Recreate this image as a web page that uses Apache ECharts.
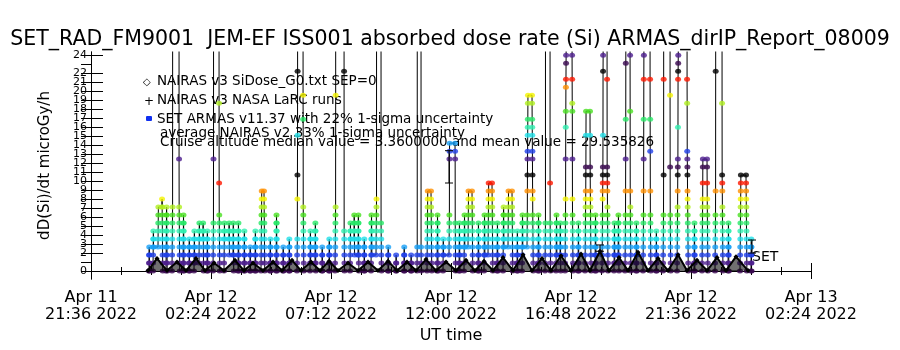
<!DOCTYPE html>
<html>
<head>
<meta charset="utf-8">
<script src="https://cdn.jsdelivr.net/npm/echarts@6/dist/echarts.min.js"></script>
<style>html,body{margin:0;padding:0;background:#fff}#main{width:900px;height:350px}</style>
</head>
<body>
<div id="main"></div>
<script>
// hours since Apr 11 2022 21:36 UT
var xTickLabels = ['Apr 11\n21:36 2022', 'Apr 12\n02:24 2022', 'Apr 12\n07:12 2022', 'Apr 12\n12:00 2022',
    'Apr 12\n16:48 2022', 'Apr 12\n21:36 2022', 'Apr 13\n02:24 2022'];
var yTickValues = [0,1,2,3,4,5,6,7,8,9,10,11,12,13,14,15,16,17,18,19,20,21,22,23,24];

// SET ARMAS: one entry per pass, levels in dosimeter counts (1 count = doseStep microGy/h)
var doseStep = 0.89;
var sampleStep = 0.003; // h between samples
var armasStart = [2.32, 2.48, 2.68, 2.84, 3.0, 3.24, 3.52, 3.68, 3.92, 4.12, 4.32, 4.48, 4.64, 4.88, 5.12,
    5.32, 5.52, 5.68, 5.88, 6.12, 6.36, 6.56, 6.8, 6.92, 7.16, 7.4, 7.68, 7.92, 8.24, 8.48,
    8.76, 8.96, 9.24, 9.52, 9.76, 10.12, 10.36, 10.52, 10.68, 10.92, 11.2, 11.4, 11.6, 11.88, 12.2,
    12.52, 12.8, 13.04, 13.2, 13.44, 13.6, 13.84, 14.08, 14.32, 14.56, 14.72, 14.92, 15.08, 15.24, 15.48,
    15.72, 15.88, 16.04, 16.24, 16.48, 16.68, 16.84, 17.04, 17.24, 17.44, 17.64, 17.88, 18.16, 18.36, 18.6,
    18.76, 18.96, 19.24, 19.48, 19.76, 19.96, 20.16, 20.44, 20.64, 20.92, 21.08, 21.36, 21.56, 21.8, 22.08,
    22.36, 22.6, 22.88, 23.16, 23.44, 23.84, 24.12, 24.44, 24.64, 24.96, 25.24, 25.48, 25.96, 26.2, 26.4];
var armasLevels = [
    [0,1,2,3,2,1,0], [0,1,2,3,4,5,4,3], [3,4,5,6,7,8], [8,9,8,7,6,5,4,3,2,1,0],
    [0,1,2,3,4,5,6,7,8,7,6,5,4,3,2,1,0], [0,1,2,3,4,5,6,7,8,60], [60,14,8,7,6,5,4,3,2,1,0],
    [0,1,2,3,4,5,6,7,6,5,4,3,2,1,0], [0,1,2,3,4,3,2,1,0], [0,1,2,3,4,5,4,3,2,1], [1,2,3,4,5,6,5,4],
    [4,5,6,5,4,3,2,1,0], [0,1,2,3,4,5,4,3,2,1,0], [0,1,2,3,4,5,6,14,60], [60,21,11,7,6,5,4,3,2,1,0],
    [0,1,2,3,4,5,6,5,4], [4,5,6,5,4,3,2], [2,3,4,5,6,5,4,3,2,1,0], [0,1,2,3,4,5,6,5,4,3,2,1,0],
    [0,1,2,3,4,5,4,3,2,1,0], [0,1,2,3,2,1,0], [0,1,2,3,4,5,4,3,2,1,0], [0,1,2,3,4,5,6,7,8,9,10],
    [10,9,8,7,6,5,4,3,2,1,0], [0,1,2,3,4,3,2,1,0], [0,1,2,3,4,5,6,7,6,5,4,3,2,1,0], [0,1,2,3,2,1,0],
    [0,1,2,3,4,3,2,1,0], [0,1,2,3,4,9,12,17,25,60], [60,22,19,8,7,6,5,4,3,2,1,0],
    [0,1,2,3,4,5,4,3,2,1], [1,2,3,4,5,6,5,4,3,2,1,0], [0,1,2,3,2,1,0], [0,1,2,3,4,3,2,1,0],
    [0,1,2,3,4,5,6,7,8,22,60], [60,25,5,4,3,2,1,0], [0,1,2,3,4,5,6,5,4], [4,5,6,7,6,5,4,3,2],
    [2,3,4,5,6,7,6,5,4,3,2,1,0], [0,1,2,3,4,3,2,1,0], [0,1,2,3,4,5,6,7,6,5,4,3,2],
    [2,3,4,5,6,7,8,9,60], [60,6,5,4,3,2,1,0], [0,1,2,3,2,1,0], [0,1,2,1,0],
    [0,1,2,3,2,1,0], [0,1,2,1,0], [0,1,2,3,60], [60,3,2,1,0], [0,1,2,3,4,5,6,7,8,9,10],
    [10,9,8,7,6,5,4,3,2,1,0], [0,1,2,3,4,5,6,7,6,5,4,3,2,1,0], [0,1,2,3,4,3,2],
    [2,3,4,5,6,7,14,15,16], [16,15,14,6,5,4,3,2,1,0], [0,1,2,3,4,5,6,5,4,3,2,1,0],
    [0,1,2,3,4,5,6,7,6,5,4,3], [3,4,5,6,7,8,9,10], [10,9,8,7,6,5,4,3,2,1,0], [0,1,2,3,4,5,6,5,4,3,2,1,0],
    [0,1,2,3,4,5,6,7,6,5,4,3,2], [2,3,4,5,6,7,8,9,10,11], [11,10,9,8,7,6,5,4,3,2,1,0],
    [0,1,2,3,4,5,6,5,4,3,2,1,0], [0,1,2,3,4,5,6,7,8,7,6,5,4,3], [3,4,5,6,7,8,9,10],
    [10,9,8,7,6,5,4,3,2,1,0], [0,1,2,3,4,5,4,3,2,1,0], [0,1,2,3,4,5,6,7,6,5,4,3],
    [3,4,5,6,7,10,12,14,15,17,18,19,21,22], [22,21,19,18,17,15,14,12,10,9,7,6,5,4,3,2,1,0],
    [0,1,2,3,4,5,6,7,6,5,4,3,2,1,0], [0,1,2,3,4,5,6,60], [60,11,6,5,4,3,2,1,0],
    [0,1,2,3,4,5,6,7,6,5,4,3,2], [2,3,4,5,6,5,4,3,2,1,0],
    [0,1,2,3,4,5,6,7,9,14,18,20,23,24,26,27,60], [60,27,24,21,20,14,9,7,6,5,4,3,2,1,0],
    [0,1,2,3,4,5,6,5,4,3,2,1,0], [0,1,2,3,4,5,6,7,8,9,10,12,13,17,20],
    [20,17,13,12,10,9,8,7,6,5,4,3,2,1,0], [0,1,2,3,4,5,6,7,6,5,4,3,2,1,0],
    [0,1,2,3,4,5,6,7,9,10,11,12,13,17,25,27,60], [60,24,13,12,11,10,8,7,6,5,4,3,2,1,0],
    [0,1,2,3,4,5,6,5,4,3,2,1], [1,2,3,4,5,6,7,6,5,4,3,2,1,0], [0,1,2,3,4,5,6,7,10,14,19,26,60],
    [60,27,20,10,8,7,6,5,4,3,2,1,0], [0,1,2,3,4,5,6,5,4,3,2,1,0], [0,1,2,3,4,5,6,7,10,14,19,24,27,60],
    [60,24,19,15,10,7,6,5,4,3,2,1,0], [0,1,2,3,4,5,4,3,2,1,0], [0,1,2,3,4,5,6,7,12,24,60],
    [60,22,13,7,6,5,4,3,2,1,0], [0,1,2,3,4,5,6,7,8,10,12,13,14,18,24,25,26,27,60],
    [60,24,21,15,14,13,12,10,9,8,7,6,5,4,3,2,1,0], [0,1,2,3,4,5,6,5,4,3,2,1,0],
    [0,1,2,3,4,5,6,7,8,9,11,13,14], [14,13,11,9,8,7,6,5,4,3,2,1,0], [0,1,2,3,4,5,6,7,10,25,60],
    [60,21,12,11,10,8,7,6,5,4,3,2,1,0], [0,1,2,3,4,5,6,5,4,3,2,1,0], [0,1,2,3,4,5,6,7,8,9,10,11,12],
    [12,11,10,9,8,7,6,5,4,3,2,1,0], [0,1,2,3,4,3,2,1,0]
];

// NAIRAS v3 SiDose along track (valleys and peaks)
var naiTime = [2.28, 2.64, 3.04, 3.44, 3.80, 4.20, 4.56, 4.92, 5.32, 5.76, 6.12, 6.48, 6.88, 7.28, 7.64,
    8.04, 8.40, 8.80, 9.16, 9.52, 9.88, 10.28, 10.68, 11.08, 11.48, 11.88, 12.24, 12.64, 13.00, 13.40,
    13.80, 14.20, 14.60, 15.00, 15.36, 15.72, 16.08, 16.48, 16.88, 17.28, 17.64, 18.04, 18.40, 18.80, 19.20,
    19.60, 19.96, 20.36, 20.72, 21.12, 21.48, 21.88, 22.28, 22.68, 23.08, 23.48, 23.84, 24.24, 24.64, 25.04,
    25.40, 25.80, 26.28];
var naiDose = [0.05, 1.4, 0.05, 1.0, 0.05, 1.4, 0.05, 0.9, 0.05, 1.2, 0.05, 0.9, 0.05, 1.0, 0.05,
    1.2, 0.05, 1.0, 0.05, 1.1, 0.05, 0.9, 0.05, 1.0, 0.05, 1.1, 0.05, 1.0, 0.05, 1.3,
    0.05, 1.0, 0.05, 1.2, 0.05, 1.1, 0.05, 1.5, 0.05, 1.8, 0.05, 1.4, 0.05, 1.7, 0.05,
    1.9, 0.05, 2.2, 0.05, 1.5, 0.05, 2.1, 0.05, 1.4, 0.05, 1.8, 0.05, 1.2, 0.05, 1.5,
    0.05, 1.6, 0.05];

// NAIRAS v3 NASA LaRC runs
var larcTime = [14.32, 20.36, 26.44];
var larcDose = [9.8, 2.2, 2.0];
var larcHigh = [13.4, 2.9, 3.45];

var levelColors = ['#000000', '#3a0850', '#4e1e8e', '#2040e8', '#18a0f8', '#20e0e8', '#30f0b0',
    '#28e868', '#48e020', '#b0f020', '#f4f400', '#ff9000', '#ff1800'];
function levelColor(v) {
    var k = Math.round(v / doseStep);
    return levelColors[(k + 1) % 13];
}

var armasPts = [];
armasStart.forEach(function (t0, i) {
    armasLevels[i].forEach(function (lv, j) {
        armasPts.push([t0 + j * sampleStep, lv * doseStep]);
    });
});
var naiPts = naiTime.map(function (t, i) { return [t, naiDose[i]]; });
var larcPts = larcTime.map(function (t, i) { return [t, larcDose[i], larcHigh[i]]; });

var font = 'DejaVu Sans';
var legFont = '13.5px "DejaVu Sans"';
var myChart = echarts.init(document.getElementById('main'));
var option = {
    animation: false,
    backgroundColor: '#fff',
    title: {
        text: 'SET_RAD_FM9001  JEM-EF ISS001 absorbed dose rate (Si) ARMAS_dirIP_Report_08009',
        left: 'center', top: 24,
        textStyle: {fontFamily: font, fontSize: 20.5, fontWeight: 'normal', color: '#000'}
    },
    grid: {left: 91, right: 89, top: 52, bottom: 71, show: false},
    xAxis: [{
        type: 'value', min: 0, max: 28.8, interval: 4.8, position: 'bottom',
        name: 'UT time', nameLocation: 'middle', nameGap: 40,
        nameTextStyle: {fontFamily: font, fontSize: 16, color: '#000'},
        axisLine: {lineStyle: {color: '#000'}},
        axisTick: {inside: true, length: 8, lineStyle: {color: '#000'}},
        minorTick: {show: true, splitNumber: 4, length: 4, lineStyle: {color: '#000'}},
        splitLine: {show: false},
        axisLabel: {
            fontFamily: font, fontSize: 16, color: '#000', lineHeight: 17, margin: 10,
            formatter: function (v) { return xTickLabels[Math.round(v / 4.8)] || ''; }
        }
    }, {
        type: 'value', min: 0, max: 28.8, interval: 4.8, position: 'top',
        axisLine: {lineStyle: {color: '#000'}},
        axisTick: {inside: true, length: 8, lineStyle: {color: '#000'}},
        minorTick: {show: true, splitNumber: 4, length: 4, lineStyle: {color: '#000'}},
        splitLine: {show: false}, axisLabel: {show: false}
    }],
    yAxis: [{
        type: 'value', min: -0.89, max: 24.39, position: 'left',
        name: 'dD(Si)/dt microGy/h', nameLocation: 'middle', nameGap: 38, nameRotate: 90,
        nameTextStyle: {fontFamily: font, fontSize: 15, color: '#000'},
        axisLine: {show: true, lineStyle: {color: '#000'}},
        axisTick: {show: true, inside: true, length: 12, customValues: yTickValues, lineStyle: {color: '#000'}},
        axisLabel: {customValues: yTickValues, showMinLabel: true, showMaxLabel: true, hideOverlap: false,
            fontFamily: font, fontSize: 11, color: '#000', margin: 4},
        splitLine: {show: false}
    }, {
        type: 'value', min: -0.89, max: 24.39, position: 'right',
        axisLine: {show: true, lineStyle: {color: '#000'}},
        axisTick: {show: true, inside: true, length: 10, customValues: yTickValues, lineStyle: {color: '#000'}},
        axisLabel: {show: false}, splitLine: {show: false}
    }],
    graphic: [
        {type: 'text', x: 143, y: 82, style: {text: '\u25C7', font: '10px "DejaVu Sans"', fill: '#000', verticalAlign: 'middle'}},
        {type: 'text', x: 157, y: 81, style: {text: 'NAIRAS v3 SiDose_G0.txt SEP=0', font: legFont, fill: '#000', verticalAlign: 'middle'}},
        {type: 'text', x: 144, y: 102, style: {text: '+', font: '12px "DejaVu Sans"', fill: '#000', verticalAlign: 'middle'}},
        {type: 'text', x: 157, y: 100, style: {text: 'NAIRAS v3 NASA LaRC runs', font: legFont, fill: '#000', verticalAlign: 'middle'}},
        {type: 'rect', shape: {x: 146, y: 116, width: 6, height: 5, r: 1}, style: {fill: '#1030f0'}},
        {type: 'text', x: 157, y: 119, style: {text: 'SET ARMAS v11.37 with 22% 1-sigma uncertainty', font: legFont, fill: '#000', verticalAlign: 'middle'}},
        {type: 'text', x: 160, y: 133, style: {text: 'average NAIRAS v2 33% 1-sigma uncertainty', font: legFont, fill: '#000', verticalAlign: 'middle'}},
        {type: 'text', x: 160, y: 142, style: {text: 'Cruise altitude median value = 3.3600000 and mean value = 29.535826', font: legFont, fill: '#000', verticalAlign: 'middle'}},
        {type: 'text', x: 752, y: 257, style: {text: 'SET', font: '14px "DejaVu Sans"', fill: '#000', verticalAlign: 'middle'}}
    ],
    series: [{
        name: 'ARMAS line', type: 'line', data: armasPts, symbol: 'none', z: 2,
        lineStyle: {color: '#000', width: 1}
    }, {
        name: 'SET ARMAS', type: 'scatter', data: armasPts, symbol: 'circle', symbolSize: [6, 5], z: 3,
        itemStyle: {color: function (p) { return levelColor(p.value[1]); }}
    }, {
        name: 'NAIRAS v3', type: 'line', data: naiPts, z: 4,
        symbol: 'diamond', symbolSize: 5, showAllSymbol: true,
        itemStyle: {color: '#000'},
        lineStyle: {color: '#000', width: 2},
        areaStyle: {color: 'rgba(0,0,0,0.8)'}
    }, {
        name: 'NAIRAS LaRC', type: 'custom', data: larcPts, z: 5,
        renderItem: function (params, api) {
            var lo = api.coord([api.value(0), api.value(1)]);
            var hi = api.coord([api.value(0), api.value(2)]);
            var st = {stroke: '#000', lineWidth: 1};
            return {type: 'group', children: [
                {type: 'line', shape: {x1: lo[0], y1: lo[1], x2: hi[0], y2: hi[1]}, style: st},
                {type: 'line', shape: {x1: hi[0] - 4, y1: hi[1], x2: hi[0] + 4, y2: hi[1]}, style: st},
                {type: 'line', shape: {x1: lo[0] - 4, y1: lo[1], x2: lo[0] + 4, y2: lo[1]}, style: st}
            ]};
        }
    }]
};
myChart.setOption(option);
</script>
</body>
</html>
